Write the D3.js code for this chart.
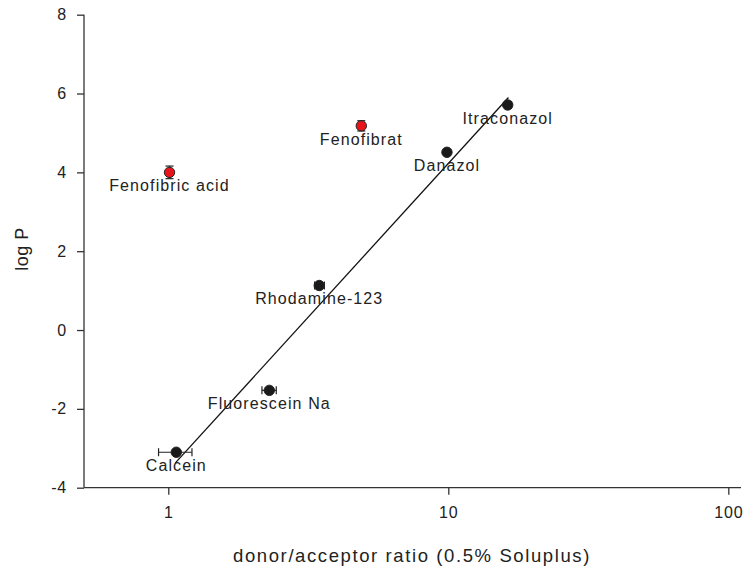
<!DOCTYPE html>
<html>
<head>
<meta charset="utf-8">
<script src="https://cdn.jsdelivr.net/npm/d3@7"></script>
<style>
  html, body { margin: 0; padding: 0; background: #fff; }
  svg text { font-family: "Liberation Sans", Arial, Helvetica, sans-serif; fill: #222; }
</style>
</head>
<body>
<svg id="chart" width="744" height="570"></svg>
<script>
// ---- data ----
const names   = ["Calcein", "Fluorescein Na", "Rhodamine-123", "Danazol", "Itraconazol", "Fenofibrat", "Fenofibric acid"];
const ratio   = [1.068, 2.295, 3.46, 9.89, 16.3, 4.89, 1.01];
const logP    = [-3.10, -1.53, 1.13, 4.51, 5.71, 5.18, 4.00];
const ratioLo = [0.923, 2.16, 3.33, null, 15.9, null, null];
const ratioHi = [1.215, 2.43, 3.61, null, 16.8, null, null];
const logPErr = [null, null, null, null, null, 0.13, 0.16];
const isRed   = [false, false, false, false, false, true, true];
const fitX    = [1.06, 16.4];
const fitY    = [-3.37, 5.90];
const xTicks  = [1, 10, 100];
const yTicks  = [-4, -2, 0, 2, 4, 6, 8];

// ---- layout ----
const svg = d3.select("#chart");
const L = 84, R = 741, T = 14.7, B = 487.7;
const x = d3.scaleLog().domain([0.5, 111]).range([L, R]);
const y = d3.scaleLinear().domain([-4, 8]).range([B, T]);
const axisColor = "#333";

// axes
const gx = svg.append("g").attr("transform", `translate(0,${B})`)
  .call(d3.axisBottom(x).tickValues(xTicks).tickFormat(d => String(d)).tickSize(7).tickSizeOuter(0).tickPadding(12));
const gy = svg.append("g").attr("transform", `translate(${L},0)`)
  .call(d3.axisLeft(y).tickValues(yTicks).tickFormat(d => String(d)).tickSize(7).tickSizeOuter(0).tickPadding(10));
[gx, gy].forEach(g => {
  g.select(".domain").attr("stroke", axisColor).attr("stroke-width", 1.3);
  g.selectAll(".tick line").attr("stroke", axisColor).attr("stroke-width", 1.3);
  g.selectAll(".tick text").attr("font-size", 16).style("letter-spacing", "0.8px")
    .attr("fill", "#222").attr("font-family", '"Liberation Sans", Arial, sans-serif');
});
gx.select(".domain").attr("d", `M${L},0H${R}`);
gy.select(".domain").attr("d", `M0,${B}V${T}`);

// axis titles
svg.append("text")
  .attr("x", 412).attr("y", 561.7)
  .attr("text-anchor", "middle")
  .attr("font-size", 18.5).style("letter-spacing", "1.6px")
  .text("donor/acceptor ratio (0.5% Soluplus)");
svg.append("text")
  .attr("transform", "translate(27.5,249) rotate(-90)")
  .attr("text-anchor", "middle")
  .attr("font-size", 18).style("letter-spacing", "0.5px")
  .text("log P");

// regression line
svg.append("line")
  .attr("x1", x(fitX[0])).attr("y1", y(fitY[0]))
  .attr("x2", x(fitX[1])).attr("y2", y(fitY[1]))
  .attr("stroke", "#111").attr("stroke-width", 1.3);

const idx = d3.range(names.length);
const cap = 4;

// horizontal error bars
idx.filter(i => ratioLo[i] != null).forEach(i => {
  const g = svg.append("g").attr("stroke", "#222").attr("stroke-width", 1.2);
  const yy = y(logP[i]), x0 = x(ratioLo[i]), x1 = x(ratioHi[i]);
  g.append("line").attr("x1", x0).attr("x2", x1).attr("y1", yy).attr("y2", yy);
  g.append("line").attr("x1", x0).attr("x2", x0).attr("y1", yy - cap).attr("y2", yy + cap);
  g.append("line").attr("x1", x1).attr("x2", x1).attr("y1", yy - cap).attr("y2", yy + cap);
});
// vertical error bars
idx.filter(i => logPErr[i] != null).forEach(i => {
  const g = svg.append("g").attr("stroke", "#222").attr("stroke-width", 1.2);
  const xx = x(ratio[i]), y0 = y(logP[i] - logPErr[i]), y1 = y(logP[i] + logPErr[i]);
  g.append("line").attr("x1", xx).attr("x2", xx).attr("y1", y0).attr("y2", y1);
  g.append("line").attr("x1", xx - cap).attr("x2", xx + cap).attr("y1", y0).attr("y2", y0);
  g.append("line").attr("x1", xx - cap).attr("x2", xx + cap).attr("y1", y1).attr("y2", y1);
});

// points
svg.append("g").selectAll("circle").data(idx).join("circle")
  .attr("cx", i => x(ratio[i])).attr("cy", i => y(logP[i]))
  .attr("r", 5.2)
  .attr("fill", i => isRed[i] ? "#e8141c" : "#1a1a1a")
  .attr("stroke", "#222").attr("stroke-width", 1);

// labels
svg.append("g").selectAll("text").data(idx).join("text")
  .attr("x", i => x(ratio[i]))
  .attr("y", i => y(logP[i]) + 19)
  .attr("text-anchor", "middle")
  .attr("font-size", 16).style("letter-spacing", "1.1px")
  .text(i => names[i]);
</script>
</body>
</html>
